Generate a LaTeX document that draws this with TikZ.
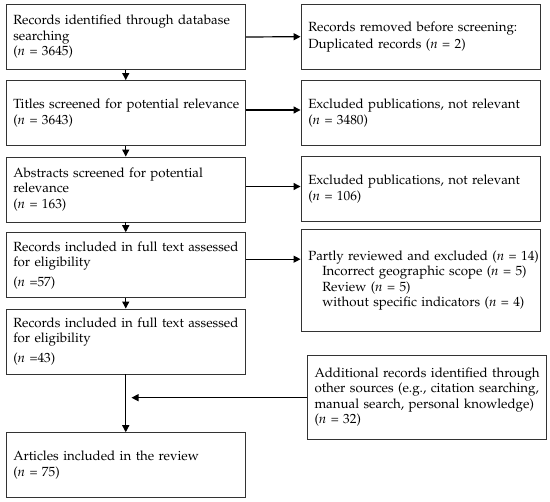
\documentclass[tikz,border=0pt]{standalone}
\usepackage[T1]{fontenc}
\usepackage{mathpazo}
\usetikzlibrary{arrows.meta}
\newcommand{\myl}[1]{\mbox{#1}}
\begin{document}
\begin{tikzpicture}[x=1pt,y=1pt,
  box/.style={draw=black!80, line width=0.9pt, rectangle, align=left,
    text width=225pt, inner xsep=7.25pt, inner ysep=0pt, minimum height=65pt,
    font={\fontsize{13.3}{15.5}\selectfont}},
  arr/.style={draw=black, line width=1.2pt, -{Triangle[length=7pt,width=7pt]}}
]
\useasboundingbox (0,0) rectangle (550,-502);
% left column
\node[box] (b1) at (125.75,-37) {\myl{Records identified through database}\\searching\\(\textit{n} = 3645)};
\node[box] (b2) at (125.75,-113) {\myl{Titles screened for potential relevance}\\(\textit{n} = 3643)};
\node[box] (b3) at (125.75,-189.5) {\myl{Abstracts screened for potential}\\relevance\\(\textit{n} = 163)};
\node[box] (b4) at (125.75,-265.2) {\myl{Records included in full text assessed}\\\myl{for eligibility}\\[4pt](\textit{n} =57)};
\node[box] (b5) at (125.75,-341.5) {\myl{Records included in full text assessed}\\\myl{for eligibility}\\[4pt](\textit{n} =43)};
\node[box] (b6) at (125.75,-465.2) {\myl{Articles included in the review}\\(\textit{n} = 75)};
% right column
\node[box] (r1) at (420.75,-36.7) {\myl{Records removed before screening:}\\[1.5pt]\myl{Duplicated records (\textit{n} = 2)}};
\node[box] (r2) at (420.75,-112.9) {\myl{Excluded publications, not relevant}\\(\textit{n} = 3480)};
\node[box] (r3) at (420.75,-189.2) {\myl{Excluded publications, not relevant}\\(\textit{n} = 106)};
\node[box, minimum height=102.4pt] (r4) at (420.75,-280.5) {\myl{Partly reviewed and excluded (\textit{n} = 14)}\\
  \myl{\hspace*{14pt}Incorrect geographic scope (\textit{n} = 5)}\\
  \myl{\hspace*{14pt}Review (\textit{n} = 5)}\\
  \myl{\hspace*{14pt}without specific indicators (\textit{n} = 4)}};
\node[box, minimum height=84.3pt] (r5) at (427,-397.2) {\myl{Additional records identified through}\\\myl{other sources (e.g., citation searching,}\\\myl{manual search, personal knowledge)}\\(\textit{n} = 32)};
\coordinate (c) at (131.5,-397.7);
% vertical arrows
\draw[arr] (b1.south) -- (b2.north);
\draw[arr] (b2.south) -- (b3.north);
\draw[arr] (b3.south) -- (b4.north);
\draw[arr] (b4.south) -- (b5.north);
\draw[arr] (b5.south) -- (b6.north);
% horizontal arrows
\draw[arr] (b1.east) -- (r1.west);
\draw[arr] ([yshift=3pt]b2.east) -- ([yshift=3pt]b2.east -| r2.west);
\draw[arr] ([yshift=3pt]b3.east) -- ([yshift=3pt]b3.east -| r3.west);
\draw[arr] ([yshift=6pt]b4.east) -- ([yshift=6pt]b4.east -| r4.west);
\draw[arr] (r5.west |- c) -- (c);
\end{tikzpicture}
\end{document}
